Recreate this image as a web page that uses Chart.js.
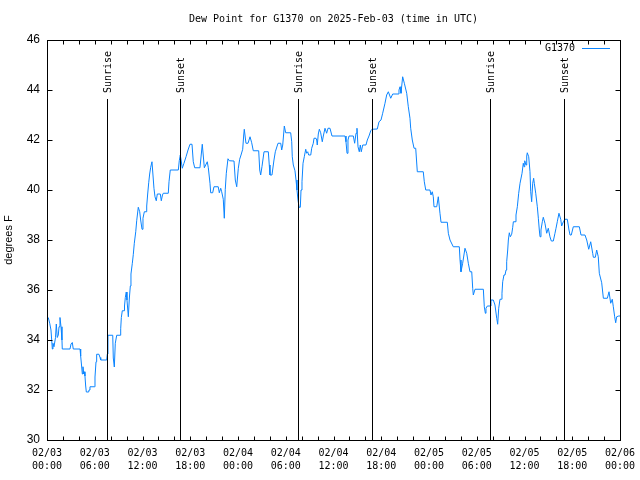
<!DOCTYPE html>
<html><head><meta charset="utf-8">
<script src="https://cdn.jsdelivr.net/npm/chart.js@4/dist/chart.umd.min.js"></script>
<style>html,body{margin:0;padding:0;background:#fff}canvas{display:block}</style>
</head><body>
<canvas id="c" width="640" height="480"></canvas>
<script>
const chartTitle = 'Dew Point for G1370 on 2025-Feb-03 (time in UTC)';
const seriesName = 'G1370';
const yAxisTitle = 'degrees F';
// hours since 2025-02-03 00:00 UTC
const hours = [0.16,0.34,0.50,0.59,0.67,0.75,0.88,1.07,1.17,1.29,1.42,1.51,1.63,1.76,1.88,1.92,2.89,3.02,3.18,3.30,4.15,4.23,4.36,4.44,4.52,4.61,4.69,4.77,4.86,4.94,5.24,5.28,5.40,5.94,6.03,6.16,6.24,6.53,6.66,6.75,7.50,7.58,7.66,8.26,8.33,8.46,8.58,8.76,9.21,9.26,9.34,9.46,9.68,9.74,9.84,9.96,10.05,10.22,10.34,10.47,10.55,10.72,10.84,10.97,11.15,11.27,11.47,11.65,11.77,11.94,12.06,12.23,12.44,12.53,12.65,12.78,12.90,13.03,13.19,13.44,13.57,13.73,13.86,14.24,14.36,14.51,14.61,15.24,15.33,15.49,16.50,16.62,16.75,17.00,17.21,17.47,17.72,17.97,18.22,18.38,18.56,19.22,19.51,19.77,20.14,20.27,20.48,20.57,20.82,20.98,21.52,21.65,21.83,21.95,22.15,22.28,22.40,22.53,22.74,22.91,23.50,23.66,23.84,23.91,24.04,24.21,24.38,24.50,24.59,24.72,24.79,25.00,25.26,25.51,25.72,25.92,26.60,26.73,26.85,27.01,27.27,27.81,27.93,28.02,28.27,28.52,28.69,29.03,29.37,29.49,29.62,29.82,29.99,30.62,30.75,30.82,30.95,31.16,31.29,31.41,31.54,31.67,31.83,31.92,32.04,32.17,32.33,32.51,32.63,32.76,32.88,33.14,33.26,33.46,33.55,33.80,33.89,33.96,34.09,34.22,34.39,34.59,34.72,34.93,35.14,35.31,35.56,35.81,37.45,37.57,37.70,37.82,37.95,38.49,38.66,38.83,38.95,39.08,39.24,39.37,39.49,39.67,40.08,40.25,40.46,40.68,40.84,41.50,41.72,41.97,42.18,42.47,42.68,42.89,43.19,43.44,44.14,44.23,44.36,44.48,44.69,44.90,45.20,45.40,45.61,45.70,45.90,46.12,46.33,46.53,47.28,47.41,47.59,48.12,48.25,48.41,48.54,48.63,48.97,49.17,49.38,49.51,50.30,50.43,50.64,51.05,51.81,51.90,52.02,52.23,52.52,52.74,52.94,53.15,53.37,53.49,53.57,53.78,54.83,54.95,55.08,55.16,55.33,55.67,55.79,56.08,56.29,56.51,56.63,56.76,56.92,57.09,57.17,57.26,57.42,57.55,57.68,57.76,57.89,57.97,58.09,58.22,58.39,58.52,58.60,58.81,58.93,59.10,59.27,59.44,59.69,59.85,59.94,60.03,60.19,60.28,60.35,60.53,60.69,60.78,60.90,61.03,61.15,61.23,61.41,61.61,61.74,61.86,61.95,62.07,62.24,62.36,62.57,62.79,62.99,63.20,63.37,63.62,63.83,63.96,64.12,64.33,64.55,64.67,64.88,65.09,65.38,65.59,65.72,65.88,66.13,66.89,67.10,67.60,67.82,68.07,68.32,68.57,68.65,68.90,69.07,69.27,69.40,69.70,69.91,70.41,70.62,70.83,71.03,71.16,71.33,71.46,71.58,71.84,72.00];
const dewPoint = [34.9,34.67,34.4,34.0,33.64,33.87,33.73,34.1,34.64,34.1,34.2,34.53,34.9,34.53,34.0,33.64,33.64,33.84,33.9,33.64,33.64,33.36,32.92,32.64,32.93,32.64,32.73,32.56,32.16,31.92,31.92,32.0,32.13,32.13,32.52,33.13,33.43,33.43,33.3,33.2,33.2,33.44,34.19,34.19,33.28,32.92,33.87,34.19,34.19,34.45,34.9,35.17,35.17,35.36,35.7,35.92,35.6,34.93,35.64,36.16,36.64,37.07,37.41,37.87,38.33,38.77,39.31,39.13,38.8,38.43,38.87,39.13,39.13,39.36,39.84,40.29,40.64,40.91,41.13,40.07,39.73,39.57,39.84,39.84,39.57,39.8,39.87,39.87,40.33,40.8,40.8,41.17,41.4,40.87,41.07,41.33,41.6,41.83,41.83,41.13,40.89,40.89,41.83,40.89,41.13,40.89,40.27,39.89,39.89,40.13,40.13,39.89,40.07,39.93,39.63,38.87,40.03,40.67,41.25,41.17,41.16,40.4,40.13,40.4,40.87,41.23,41.4,41.4,41.63,42.2,42.43,41.87,41.87,42.13,41.89,41.57,41.57,40.8,40.6,40.93,41.53,41.53,41.0,40.6,40.6,41.2,41.53,41.87,41.87,41.6,41.8,42.56,42.29,42.29,41.93,41.33,41.0,40.77,40.4,40.0,39.6,39.31,39.31,40.0,40.33,41.07,41.33,41.63,41.47,41.53,41.4,41.4,41.67,41.87,42.07,42.07,42.0,41.8,42.24,42.43,42.29,41.93,42.16,42.47,42.27,42.47,42.47,42.16,42.16,41.93,41.47,42.0,42.16,42.16,41.87,42.27,42.47,41.73,41.53,41.8,41.53,41.8,41.8,42.0,42.16,42.37,42.43,42.44,42.73,42.8,43.07,43.47,43.8,43.93,43.67,43.84,43.84,44.0,44.13,43.87,44.53,44.27,43.87,43.33,42.87,42.47,42.0,41.67,41.67,40.73,40.73,40.33,40.0,40.0,39.8,39.93,39.73,39.33,39.33,39.73,39.07,38.71,38.71,38.27,38.0,37.73,37.73,37.2,36.73,37.07,37.67,37.47,37.07,36.73,36.73,36.07,35.8,36.03,36.03,35.33,35.07,35.27,35.36,35.36,35.6,35.6,35.4,34.87,34.63,35.27,35.63,35.63,35.87,36.33,36.6,36.6,36.8,37.13,37.6,38.0,38.29,38.13,38.23,38.51,38.73,38.73,39.0,39.33,39.87,40.27,40.67,41.07,40.93,41.17,41.0,41.36,41.49,41.33,40.73,39.93,39.53,40.27,40.47,40.27,39.87,39.33,38.87,38.4,38.13,38.4,38.73,38.91,38.67,38.27,38.47,38.13,37.96,37.96,38.27,38.47,38.73,39.07,38.83,38.56,38.73,38.83,38.83,38.4,38.2,38.2,38.53,38.53,38.2,38.2,38.0,37.63,37.93,37.47,37.31,37.31,37.6,37.33,36.67,36.29,35.67,35.67,35.93,35.47,35.63,35.33,34.93,34.69,34.93,34.96,34.96];
const eventLabels = ['Sunrise','Sunset','Sunrise','Sunset','Sunrise','Sunset'];
const eventHours = [7.58,16.75,31.54,40.84,55.71,65.0];
const xTickDates = ['02/03','02/03','02/03','02/03','02/04','02/04','02/04','02/04','02/05','02/05','02/05','02/05','02/06'];
const xTickTimes = ['00:00','06:00','12:00','18:00','00:00','06:00','12:00','18:00','00:00','06:00','12:00','18:00','00:00'];
const xMin = 0, xMax = 72, xMajor = 6, xMinor = 2;
const yMin = 30, yMax = 46, yStep = 2;

const lineColor = '#0a84ff';
const monoFont = '"DejaVu Sans Mono", monospace';
const sansFont = '"Liberation Sans", Arial, sans-serif';

const decor = {
  id: 'decor',
  afterDatasetsDraw(chart) {
    const ctx = chart.ctx, a = chart.chartArea, xs = chart.scales.x, ys = chart.scales.y;
    const L = Math.round(a.left) + 0.5, R = Math.round(a.right) + 0.5;
    const T = Math.round(a.top) + 0.5, B = Math.round(a.bottom) + 0.5;
    ctx.save();
    ctx.strokeStyle = '#000'; ctx.lineWidth = 1;
    // sunrise / sunset lines
    ctx.beginPath();
    eventHours.forEach(h => {
      const px = Math.round(xs.getPixelForValue(h)) + 0.5;
      ctx.moveTo(px, 99); ctx.lineTo(px, B);
    });
    ctx.stroke();
    ctx.fillStyle = '#000';
    ctx.font = '10px ' + monoFont;
    ctx.textAlign = 'left'; ctx.textBaseline = 'middle';
    eventHours.forEach((h, i) => {
      const px = Math.round(xs.getPixelForValue(h)) + 1;
      ctx.save(); ctx.translate(px, 93); ctx.rotate(-Math.PI / 2);
      ctx.fillText(eventLabels[i], 0, 0); ctx.restore();
    });
    // frame
    ctx.strokeRect(L, T, R - L, B - T);
    // ticks (inward, mirrored)
    ctx.beginPath();
    for (let h = xMin; h <= xMax; h += xMinor) {
      const px = Math.round(xs.getPixelForValue(h)) + 0.5;
      ctx.moveTo(px, B); ctx.lineTo(px, B - 4);
      ctx.moveTo(px, T); ctx.lineTo(px, T + 4);
    }
    for (let v = yMin; v <= yMax; v += yStep) {
      const py = Math.round(ys.getPixelForValue(v)) + 0.5;
      ctx.moveTo(L, py); ctx.lineTo(L + 5, py);
      ctx.moveTo(R, py); ctx.lineTo(R - 5, py);
    }
    ctx.stroke();
    // title
    ctx.font = '10px ' + monoFont;
    ctx.textAlign = 'center'; ctx.textBaseline = 'middle';
    ctx.fillText(chartTitle, (a.left + a.right) / 2, 19);
    // legend
    ctx.textAlign = 'right';
    ctx.fillText(seriesName, 575, 48);
    ctx.strokeStyle = lineColor;
    ctx.beginPath(); ctx.moveTo(582, 48.5); ctx.lineTo(610, 48.5); ctx.stroke();
    ctx.restore();
  }
};

new Chart(document.getElementById('c'), {
  type: 'line',
  data: {
    datasets: [{
      label: seriesName,
      data: hours.map((h, i) => ({ x: h, y: dewPoint[i] })),
      borderColor: lineColor,
      borderWidth: 1,
      pointRadius: 0,
      tension: 0,
      fill: false
    }]
  },
  options: {
    responsive: false,
    animation: false,
    devicePixelRatio: 1,
    layout: { padding: { left: 0, right: 20, top: 40, bottom: 0 } },
    plugins: { legend: { display: false }, title: { display: false }, tooltip: { enabled: false } },
    scales: {
      x: {
        type: 'linear', min: xMin, max: xMax,
        afterFit(s) { s.height = 40; s.paddingLeft = 0; s.paddingRight = 0; },
        grid: { display: false, drawTicks: false },
        border: { display: false },
        ticks: {
          stepSize: xMajor, autoSkip: false, maxRotation: 0, minRotation: 0, padding: 7,
          color: '#000', font: { family: monoFont, size: 10, lineHeight: 1.3 },
          callback: (v) => { const i = Math.round(v / xMajor); return [xTickDates[i], xTickTimes[i]]; }
        }
      },
      y: {
        min: yMin, max: yMax,
        afterFit(s) { s.width = 47; s.paddingTop = 0; s.paddingBottom = 0; },
        grid: { display: false, drawTicks: false },
        border: { display: false },
        ticks: { stepSize: yStep, padding: 7, color: '#000', font: { family: sansFont, size: 12 } },
        title: { display: true, text: yAxisTitle, color: '#000', font: { family: sansFont, size: 11 }, padding: { top: 2, bottom: 0 } }
      }
    }
  },
  plugins: [decor]
});
</script>
</body></html>
